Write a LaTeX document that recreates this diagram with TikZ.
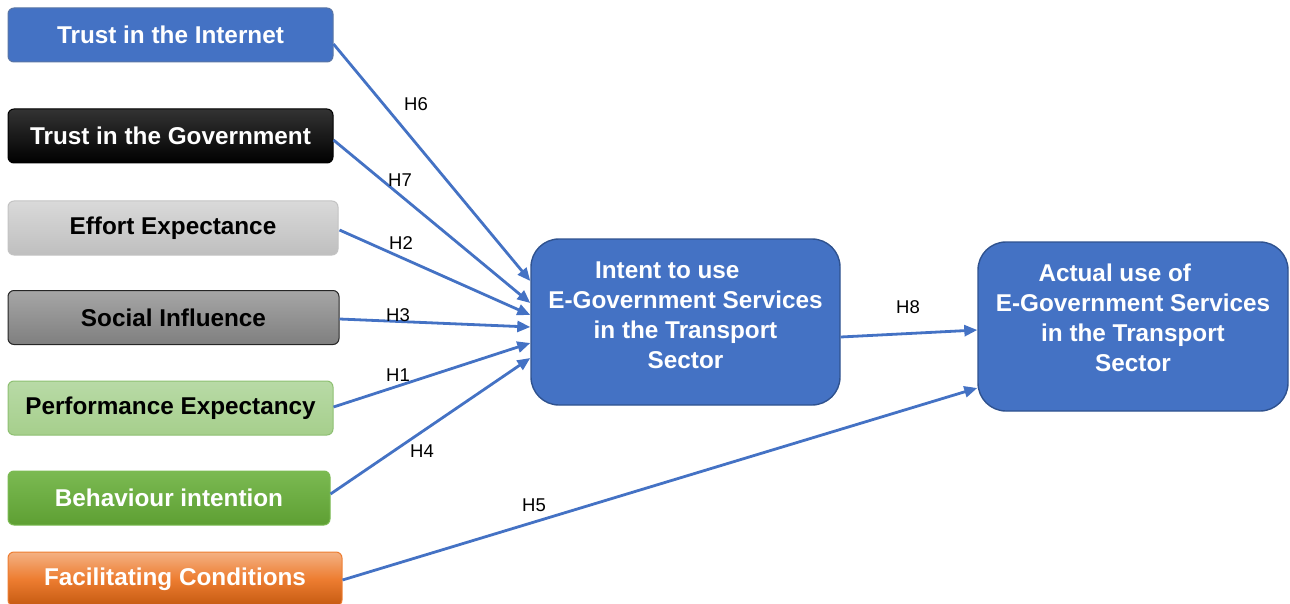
\documentclass[tikz,border=0pt]{standalone}
\usepackage{fontspec}
\setmainfont{Liberation Sans}
\usetikzlibrary{arrows.meta,calc}
\definecolor{blueA}{HTML}{4472C4}
\definecolor{blueB}{HTML}{2F528F}
\definecolor{grayT}{HTML}{D9D9D9}
\definecolor{grayB}{HTML}{BFBFBF}
\definecolor{dgrayT}{HTML}{A6A6A6}
\definecolor{dgrayB}{HTML}{7F7F7F}
\definecolor{lgreenT}{HTML}{B8DAA6}
\definecolor{lgreenB}{HTML}{A6CF8C}
\definecolor{lgreenD}{HTML}{8EC072}
\definecolor{greenT}{HTML}{7BBA52}
\definecolor{greenB}{HTML}{5E9F33}
\definecolor{orangeT}{HTML}{F4B183}
\definecolor{orangeM}{HTML}{ED7D31}
\definecolor{orangeB}{HTML}{C55A11}
\tikzset{
  leftbox/.style={rectangle, rounded corners=6pt, minimum height=54pt, inner sep=0pt,
    font=\fontsize{24.3}{29}\selectfont\bfseries, line width=1pt},
  bigbox/.style={rectangle, rounded corners=28pt, fill=blueA, draw=blueB, line width=1.4pt,
    text=white, align=center, inner sep=0pt, font=\fontsize{24.3}{30}\selectfont\bfseries},
  conn/.style={draw=blueA, line width=2.8pt, -{Triangle[length=13pt,width=11pt]}},
  hlab/.style={font=\fontsize{18.5}{22}\selectfont, text=black, inner sep=0pt}
}
\begin{document}
\begin{tikzpicture}[x=1pt,y=-1pt]
\useasboundingbox (0,0) rectangle (1290,604);
% left boxes
\node[leftbox, minimum width=325pt, fill=blueA, draw=blueB!80, text=white] (ti) at (170.5,35) {Trust in the Internet};
\node[leftbox, minimum width=325pt, top color=black!80, bottom color=black, draw=black, text=white] (tg) at (170.5,136) {Trust in the Government};
\node[leftbox, minimum width=330pt, top color=grayT, bottom color=grayB, draw=grayT!90!black, text=black] (ee) at (173,228) {Effort Expectance};
\node[leftbox, minimum width=331pt, top color=dgrayT, bottom color=dgrayB, draw=black!85, text=black] (si) at (173.5,317.5) {Social Influence};
\node[leftbox, minimum width=325pt, top color=lgreenT, bottom color=lgreenB, draw=lgreenD, text=black] (pe) at (170.5,408) {Performance Expectancy};
\node[leftbox, minimum width=322pt, top color=greenT, bottom color=greenB, draw=greenT, text=white] (bi) at (169,498) {Behaviour intention};
\node[leftbox, minimum width=334pt, top color=orangeT, bottom color=orangeB, middle color=orangeM, draw=orangeM, text=white] (fc) at (175,579) {Facilitating Conditions};
% central boxes
\node[bigbox, minimum width=309pt, minimum height=166pt] (iu) at (685.5,322)
  {Intent to use\hspace*{1.5em}\\ E-Government Services\\in the Transport\\Sector\rule[-14pt]{0pt}{14pt}};
\node[bigbox, minimum width=310pt, minimum height=169pt] (au) at (1133,326.5)
  {Actual use of\hspace*{1.5em}\\ E-Government Services\\in the Transport\\Sector\rule[-17pt]{0pt}{17pt}};
% connectors
\draw[conn] ($(ti.east)+(0,9)$) -- ($(iu.west)+(0,-41)$);
\draw[conn] ($(tg.east)+(0,4)$) -- ($(iu.west)+(0,-19)$);
\draw[conn] ($(ee.east)+(1,2)$) -- ($(iu.west)+(0,-7)$);
\draw[conn] ($(si.east)+(0,1.5)$) -- ($(iu.west)+(0,5)$);
\draw[conn] ($(pe.east)+(0,-1)$) -- ($(iu.west)+(0,21)$);
\draw[conn] ($(bi.east)+(0,-4)$) -- ($(iu.west)+(0,36)$);
\draw[conn] ($(fc.east)+(0,1)$) -- ($(au.west)+(0,61.5)$);
\draw[conn] ($(iu.east)+(0,15)$) -- ($(au.west)+(0,3.5)$);
% labels
\node[hlab] (h6) at (416,104) {H6};
\node[hlab] (h7) at (400,180) {H7};
\node[hlab] (h2) at (401,243) {H2};
\node[hlab] (h3) at (398,315) {H3};
\node[hlab] (h1) at (398,375) {H1};
\node[hlab] (h4) at (422,451) {H4};
\node[hlab] (h5) at (534,505) {H5};
\node[hlab] (h8) at (908,307) {H8};
\end{tikzpicture}
\end{document}
